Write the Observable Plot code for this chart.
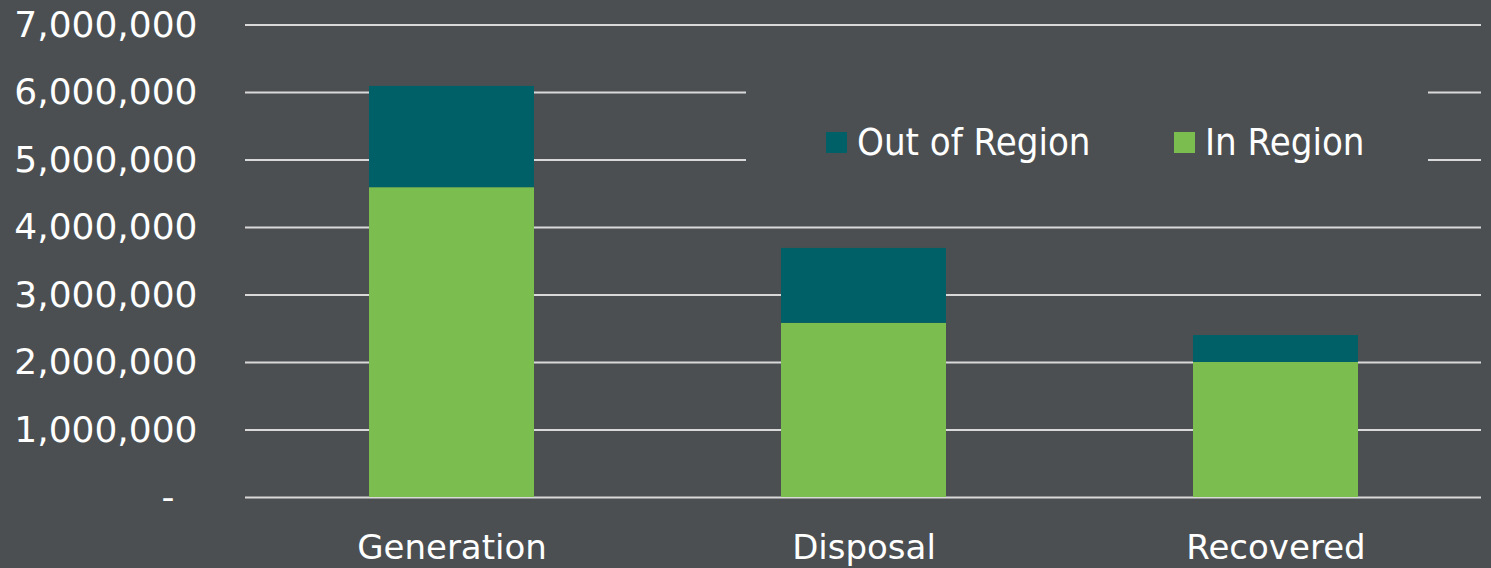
<!DOCTYPE html>
<html>
<head>
<meta charset="utf-8">
<script src="https://cdn.jsdelivr.net/npm/d3@7"></script>
<script src="https://cdn.jsdelivr.net/npm/@observablehq/plot@0.6"></script>
<style>
  html, body { margin: 0; padding: 0; background: #4b4f52; }
  #wrap { position: relative; width: 1491px; height: 568px; overflow: hidden; }
  #legend {
    position: absolute; left: 746px; top: 80px; width: 682px; height: 115px;
    background: #4b4f52; font-family: "DejaVu Sans Condensed", "DejaVu Sans", sans-serif;
    font-size: 38px; color: #ffffff;
  }
  .item { position: absolute; top: 40px; display: flex; align-items: center; white-space: nowrap; }
  .sw { width: 21px; height: 21px; margin-right: 10px; }
</style>
</head>
<body>
<div id="wrap"></div>
<script>
const categories = ["Generation", "Disposal", "Recovered"];
const seriesNames = ["In Region", "Out of Region"];
const inRegion = [4590000, 2580000, 2000000];
const outRegion = [1500000, 1110000, 400000];
const yTicks = [0, 1000000, 2000000, 3000000, 4000000, 5000000, 6000000, 7000000];
const colors = ["#7bbd4f", "#006068"];

const data = [];
categories.forEach((c, i) => {
  data.push({category: c, series: seriesNames[0], value: inRegion[i]});
  data.push({category: c, series: seriesNames[1], value: outRegion[i]});
});

const fmt = d3.format(",");
const chart = Plot.plot({
  width: 1491,
  height: 568,
  marginTop: 24.5,
  marginBottom: 71,
  marginLeft: 245,
  marginRight: 10,
  style: {background: "#4b4f52", color: "#ffffff", fontFamily: "DejaVu Sans, sans-serif"},
  x: {domain: categories, paddingInner: 0.6, paddingOuter: 0.3, label: null},
  y: {domain: [0, 7000000], label: null},
  color: {domain: seriesNames, range: colors},
  marks: [
    Plot.gridY(yTicks, {stroke: "#d9d9d9", strokeOpacity: 1, strokeWidth: 2}),
    Plot.barY(data, Plot.stackY({x: "category", y: "value", fill: "series", order: seriesNames})),
    Plot.axisY(yTicks, {tickSize: 0, tickPadding: 48, fontSize: 36, fill: "#ffffff",
      tickFormat: d => d === 0 ? "-\u00a0\u00a0" : fmt(d), label: null}),
    Plot.axisX({tickSize: 0, tickPadding: 37, fontSize: 34, fill: "#ffffff", label: null})
  ]
});
const wrap = document.getElementById("wrap");
wrap.appendChild(chart);

const legend = document.createElement("div");
legend.id = "legend";
const legendItems = [
  {name: seriesNames[1], color: colors[1], left: 80},
  {name: seriesNames[0], color: colors[0], left: 428}
];
legendItems.forEach(it => {
  const d = document.createElement("div");
  d.className = "item";
  d.style.left = it.left + "px";
  d.innerHTML = `<span class="sw" style="background:${it.color}"></span><span>${it.name}</span>`;
  legend.appendChild(d);
});
wrap.appendChild(legend);
</script>
</body>
</html>
